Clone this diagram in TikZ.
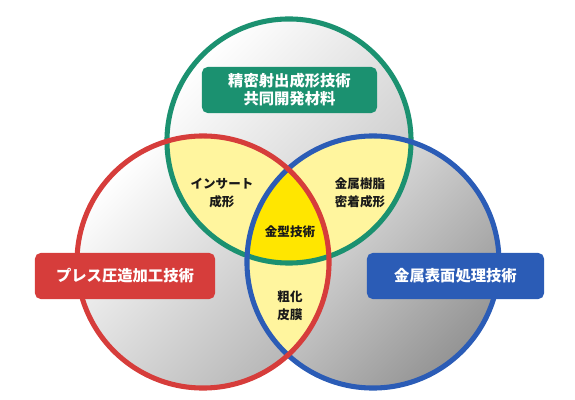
\documentclass[tikz,border=0pt]{standalone}
\usepackage{fontspec}
\setmainfont{Noto Sans CJK JP}
\usetikzlibrary{calc}
\definecolor{vgreen}{HTML}{1B9170}
\definecolor{vred}{HTML}{D63D3B}
\definecolor{vblue}{HTML}{2B5CB6}
\definecolor{paleyel}{HTML}{FFF59E}
\definecolor{coreyel}{HTML}{FFE600}

\begin{document}
\begin{tikzpicture}[x=0.025cm,y=-0.025cm,
    ring/.style={line width=3.6pt},
    tag/.style={rounded corners=4pt,text=white,inner sep=0pt,align=center,
      minimum height=1.15cm,font=\bfseries\fontsize{10.9}{12.8}\selectfont},
    lab/.style={align=center,text=black!90,font=\bfseries\fontsize{8.9}{12.8}\selectfont}]
    \useasboundingbox (0,0) rectangle (575,400);
    \coordinate (G) at (289,141);
    \coordinate (R) at (203,262);
    \coordinate (B) at (373,262);
    \def\rg{3.05cm}
    \def\rc{3.15cm}
    % grey discs
    \shade[top color=white,bottom color=black!22,shading angle=45] (G) circle[radius=\rg];
    \shade[top color=white,bottom color=black!28,shading angle=45] (R) circle[radius=\rc];
    \shade[top color=black!6,bottom color=black!42,shading angle=45] (B) circle[radius=\rc];
    % overlaps
    \begin{scope}
      \clip (G) circle[radius=\rg];
      \fill[paleyel] (R) circle[radius=\rc] (B) circle[radius=\rc];
    \end{scope}
    \begin{scope}
      \clip (R) circle[radius=\rc];
      \fill[paleyel] (B) circle[radius=\rc];
    \end{scope}
    \begin{scope}
      \clip (G) circle[radius=\rg];
      \clip (R) circle[radius=\rc];
      \fill[coreyel] (B) circle[radius=\rc];
    \end{scope}
    % rings
    \draw[ring,vgreen] (G) circle[radius=\rg];
    \draw[ring,vblue] (B) circle[radius=\rc];
    \draw[ring,vred] (R) circle[radius=\rc];
    % labels
    \node[tag,fill=vgreen,minimum width=4.375cm] (gbox) at (289.5,90) {精密射出成形技術\\共同開発材料};
    \node[tag,fill=vred,minimum width=4.5cm] (rbox) at (125,276) {プレス圧造加工技術};
    \node[tag,fill=vblue,minimum width=4.425cm] (bbox) at (455.5,276) {金属表面処理技術};
    \node[lab] (insert) at (222,193) {インサート\\成形};
    \node[lab] (resin) at (360,193) {金属樹脂\\密着成形};
    \node[lab] (mold) at (290,232) {金型技術};
    \node[lab] (rough) at (290,306) {粗化\\皮膜};
\end{tikzpicture}
\end{document}
